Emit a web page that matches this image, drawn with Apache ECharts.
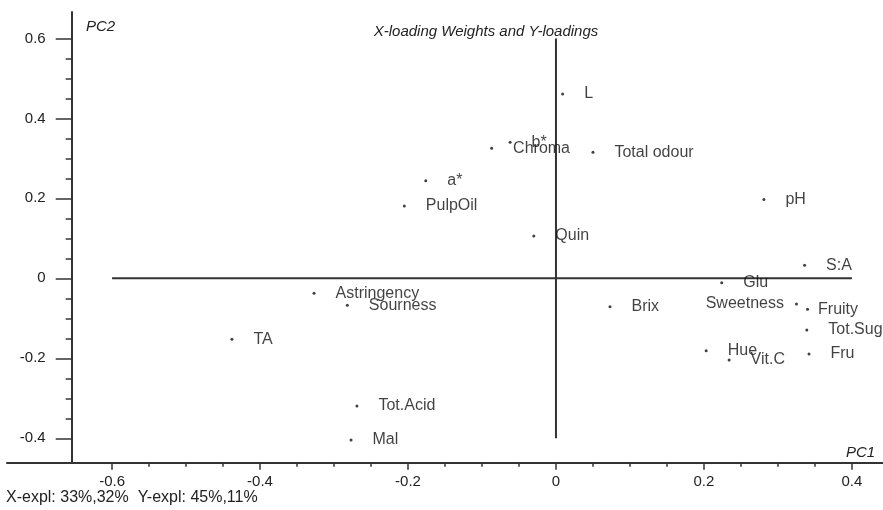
<!DOCTYPE html>
<html>
<head>
<meta charset="utf-8">
<script src="https://cdn.jsdelivr.net/npm/echarts@6/dist/echarts.min.js"></script>
<style>
html,body{margin:0;padding:0;background:#fff;}
#chart{width:883px;height:510px;}
</style>
</head>
<body>
<div id="chart"></div>
<script>
// ---- data ----
const names = ["L","Chroma","b*","Total odour","a*","PulpOil","Quin","pH","S:A","Glu","Brix",
  "Sweetness","Fruity","Tot.Sug","Fru","Hue","Vit.C","Astringency","Sourness","TA","Tot.Acid","Mal"];
const pc1 = [0.009,-0.087,-0.062,0.050,-0.176,-0.205,-0.030,0.281,0.336,0.224,0.073,
  0.325,0.340,0.339,0.342,0.203,0.234,-0.327,-0.282,-0.438,-0.269,-0.277];
const pc2 = [0.461,0.325,0.340,0.315,0.244,0.181,0.106,0.197,0.033,-0.011,-0.071,
  -0.064,-0.077,-0.129,-0.189,-0.181,-0.204,-0.037,-0.067,-0.152,-0.319,-0.404];
const xMajorTicks = [-0.6,-0.4,-0.2,0,0.2,0.4];
const yMajorTicks = [-0.4,-0.2,0,0.2,0.4,0.6];
const xMinorTicks = [-0.6,-0.55,-0.5,-0.45,-0.4,-0.35,-0.3,-0.25,-0.2,-0.15,-0.1,-0.05,0,0.05,0.1,0.15,0.2,0.25,0.3,0.35,0.4];
const yMinorTicks = [-0.4,-0.35,-0.3,-0.25,-0.2,-0.15,-0.1,-0.05,0,0.05,0.1,0.15,0.2,0.25,0.3,0.35,0.4,0.45,0.5,0.55,0.6];
const hLineX = [-0.6, 0.4];   // horizontal reference line at PC2 = 0
const vLineY = [-0.4, 0.6];   // vertical reference line at PC1 = 0
const titleText = "X-loading Weights and Y-loadings";
const footText = "X-expl: 33%,32%  Y-expl: 45%,11%";

// ---- layout / style ----
const X_MIN = -0.742, X_MAX = 0.442, Y_MIN = -0.461, Y_MAX = 0.666;
const FONT = "Liberation Sans, Arial, sans-serif";
const AX = '#333';
const labelTweaks = {
  "Sweetness": {position: 'left', distance: 11},
  "Fruity": {position: 'right', distance: 9}
};

const pts = names.map((n, i) => {
  const d = {name: n, value: [pc1[i], pc2[i]]};
  if (labelTweaks[n]) d.label = labelTweaks[n];
  return d;
});

const chart = echarts.init(document.getElementById('chart'), null, {renderer: 'canvas'});
chart.setOption({
  animation: false,
  backgroundColor: '#fff',
  title: {
    text: titleText, left: 481, top: 19, textAlign: 'center',
    textStyle: {fontFamily: FONT, fontSize: 15, fontStyle: 'italic', fontWeight: 'normal', color: '#222'}
  },
  grid: {left: 7, right: 0, top: 12, bottom: 47.3, containLabel: false},
  xAxis: [{
    type: 'value', min: X_MIN, max: X_MAX,
    axisLine: {show: true, onZero: false, lineStyle: {color: AX, width: 2}},
    axisTick: {show: true, length: 7, customValues: xMajorTicks, lineStyle: {color: AX, width: 1.5}},
    axisLabel: {show: true, customValues: xMajorTicks, margin: 12, fontFamily: FONT, fontSize: 15, color: '#222',
      formatter: v => String(Math.round(v * 10) / 10)},
    splitLine: {show: false}
  }, {
    type: 'value', min: X_MIN, max: X_MAX, position: 'bottom',
    axisLine: {show: false, onZero: false},
    axisTick: {show: true, length: 4, customValues: xMinorTicks, lineStyle: {color: AX, width: 1.5}},
    axisLabel: {show: false},
    splitLine: {show: false}
  }],
  yAxis: [{
    type: 'value', min: Y_MIN, max: Y_MAX, position: 'left', offset: -64.7,
    axisLine: {show: true, onZero: false, lineStyle: {color: AX, width: 2}},
    axisTick: {show: true, length: 16, customValues: yMajorTicks, lineStyle: {color: AX, width: 1.5}},
    axisLabel: {show: true, customValues: yMajorTicks, margin: 26, fontFamily: FONT, fontSize: 15, color: '#222',
      formatter: v => String(Math.round(v * 10) / 10)},
    splitLine: {show: false}
  }, {
    type: 'value', min: Y_MIN, max: Y_MAX, position: 'left', offset: -64.7,
    axisLine: {show: false, onZero: false},
    axisTick: {show: true, length: 6, customValues: yMinorTicks, lineStyle: {color: AX, width: 1.5}},
    axisLabel: {show: false},
    splitLine: {show: false}
  }],
  graphic: [
    {type: 'text', left: 86, top: 19, style: {text: 'PC2', font: 'italic 15px ' + FONT, fill: '#222'}},
    {type: 'text', left: 846, top: 445, style: {text: 'PC1', font: 'italic 15px ' + FONT, fill: '#222'}},
    {type: 'text', left: 6, top: 490, style: {text: footText, font: '16px ' + FONT, fill: '#222'}}
  ],
  series: [{
    type: 'line', xAxisIndex: 0, yAxisIndex: 0, silent: true, symbol: 'none', z: 1,
    data: [[hLineX[0], 0], [hLineX[1], 0]],
    lineStyle: {color: AX, width: 2}
  }, {
    type: 'line', xAxisIndex: 0, yAxisIndex: 0, silent: true, symbol: 'none', z: 1,
    data: [[0, vLineY[0]], [0, vLineY[1]]],
    lineStyle: {color: AX, width: 2}
  }, {
    type: 'scatter', xAxisIndex: 0, yAxisIndex: 0, z: 5,
    symbol: 'circle', symbolSize: 3,
    itemStyle: {color: '#111'},
    label: {show: true, position: 'right', distance: 20, formatter: '{b}',
      fontFamily: FONT, fontSize: 16, color: '#111'},
    data: pts
  }]
});
</script>
</body>
</html>
